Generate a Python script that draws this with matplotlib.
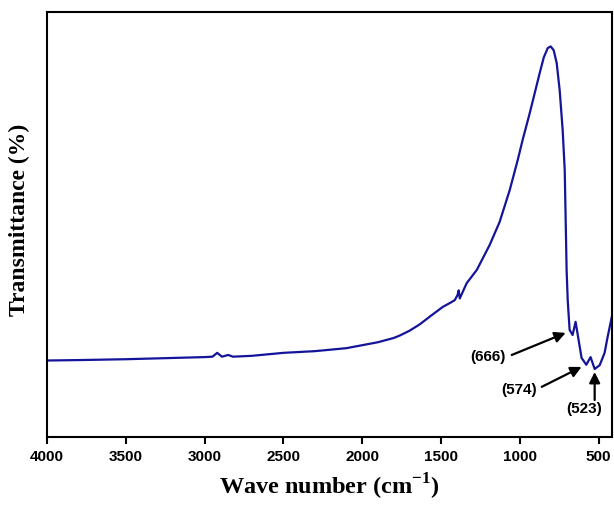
import matplotlib
matplotlib.use("Agg")
import matplotlib.pyplot as plt

plt.rcParams["mathtext.fontset"] = "custom"
plt.rcParams["mathtext.rm"] = "Liberation Serif:bold"
plt.rcParams["mathtext.bf"] = "Liberation Serif:bold"

# FTIR spectrum (wavenumber in cm-1, transmittance in a.u.)
wavenumber = [4000, 3800, 3500, 3200, 3000, 2950, 2920, 2890, 2850, 2820, 2700,
              2500, 2300, 2100, 1900, 1800, 1760, 1700, 1635, 1565, 1489, 1440,
              1413, 1395, 1388, 1381, 1337, 1273, 1191, 1128, 1064, 1013, 982,
              937, 874, 848, 823, 804, 785, 766, 747, 728, 715, 709, 703, 696, 684,
              665, 646, 608, 589, 578, 551, 525, 493, 462, 443, 411]
transmittance = [18.0, 18.1, 18.3, 18.6, 18.8, 18.9, 19.8, 18.9, 19.3, 18.9, 19.1,
                 19.8, 20.2, 20.9, 22.3, 23.3, 23.9, 25.0, 26.5, 28.5, 30.6, 31.6,
                 32.2, 33.4, 34.5, 32.6, 36.2, 39.3, 45.2, 50.6, 58.1, 65.2, 69.9,
                 76.2, 85.6, 89.3, 91.5, 91.9, 91.0, 88.0, 81.6, 72.2, 62.8, 51.1, 39.3,
                 32.2, 25.2, 24.0, 27.1, 18.6, 17.6, 17.0, 18.8, 16.0, 16.9, 19.8,
                 23.5, 29.2]

# peak labels: (text, text position, arrow start, arrow tip)
peak_labels = ["(666)", "(574)", "(523)"]
label_pos = [(1204, 18.8), (1007, 11.1), (589, 6.6)]
arrow_from = [(1051, 19.3), (861, 11.8), (525, 8.7)]
arrow_to = [(709, 24.5), (608, 16.5), (525, 15.3)]

fig = plt.figure(figsize=(6.14, 5.11), dpi=100)
ax = fig.add_axes([47 / 614, 74 / 511, 565 / 614, 425 / 511])

ax.plot(wavenumber, transmittance, color="#14149a", lw=1.6)

for txt, pos, start, tip in zip(peak_labels, label_pos, arrow_from, arrow_to):
    ax.annotate("", xy=tip, xytext=start,
                arrowprops=dict(arrowstyle="-|>", color="black", lw=1.6,
                                mutation_scale=16, shrinkA=0, shrinkB=0))
    ax.text(pos[0], pos[1], txt, ha="center", va="center",
            fontsize=11, fontweight="bold", family="Liberation Sans")

ax.set_xlim(4000, 415)
ax.set_ylim(0, 100)
ax.set_xticks([4000, 3500, 3000, 2500, 2000, 1500, 1000, 500])
ax.set_yticks([])
ax.tick_params(axis="x", direction="out", length=5, width=1.5, pad=4,
               top=False)
for lab in ax.get_xticklabels():
    lab.set_fontfamily("Liberation Sans")
    lab.set_fontweight("bold")
    lab.set_fontsize(11)
for sp in ax.spines.values():
    sp.set_linewidth(1.5)

ax.set_xlabel("Wave number (cm$^{-1}$)", fontsize=17.5, fontweight="bold",
              family="Liberation Serif", labelpad=6)
ax.set_ylabel("Transmittance (%)", fontsize=17, fontweight="bold",
              family="Liberation Serif")
ax.yaxis.set_label_coords(-0.03, 0.51)

fig.savefig("out.png", dpi=100)
